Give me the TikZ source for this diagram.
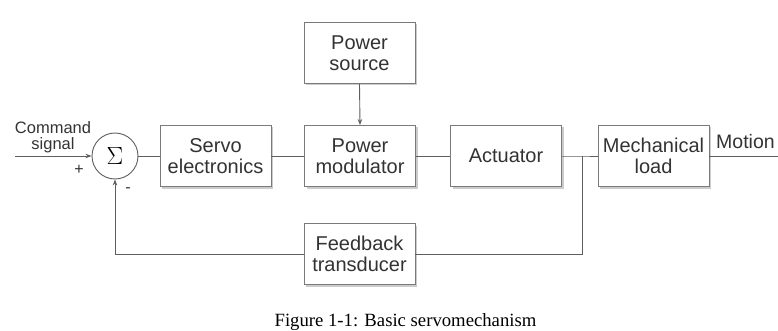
\documentclass[tikz,border=0pt]{standalone}
\usepackage{fontspec}
\setmainfont{Liberation Sans}
\newfontfamily\capfont{Liberation Serif}
\usetikzlibrary{arrows.meta,shadows}
\definecolor{linec}{HTML}{5E5E5E}
\definecolor{boxc}{HTML}{7A7A7A}
\definecolor{txtc}{HTML}{333333}
\begin{document}
\begin{tikzpicture}[x=1pt,y=-1pt,
  blockbox/.style={draw=boxc,line width=0.9pt,fill=white,minimum width=111pt,minimum height=61pt,
    align=center,inner sep=0pt,text=txtc,font=\fontsize{20}{21}\selectfont,
    drop shadow={shadow xshift=2pt,shadow yshift=-2pt,fill=black!25,opacity=0.8}},
  sumnode/.style={draw=linec,line width=0.9pt,circle,minimum size=46pt,inner sep=0pt,fill=white},
  wire/.style={draw=linec,line width=0.9pt},
  arr/.style={wire,-{Stealth[length=6pt,width=4.5pt]}},
  lbl/.style={text=txtc,inner sep=0pt,align=center}]
\useasboundingbox (0,0) rectangle (778,331);
\node[sumnode] (sum) at (115,156) {\fontsize{27}{27}\selectfont$\Sigma$};
\node[blockbox] (servo) at (215.5,156) {Servo\\electronics};
\node[blockbox] (pm) at (360,156) {Power\\modulator};
\node[blockbox] (act) at (506,156) {Actuator};
\node[blockbox] (mech) at (653.5,156) {Mechanical\\load};
\node[blockbox] (ps) at (359.5,53) {Power\\source};
\node[blockbox] (fb) at (359.5,254) {Feedback\\transducer};
\node[lbl,font=\fontsize{16.5}{16}\selectfont] (cmd) at (53,137) {Command\\signal};
\node[lbl,anchor=west,font=\fontsize{19.5}{21}\selectfont] (motion) at (716,142) {Motion};
\node[lbl,font=\fontsize{16}{16}\selectfont] (plus) at (79,170) {+};
\node[lbl,font=\fontsize{16}{16}\selectfont] (minus) at (128,190) {-};
\node[lbl,text=black,font=\capfont\fontsize{18.7}{20}\selectfont] (cap) at (405.5,322) {Figure 1-1: Basic servomechanism};
\coordinate (in) at (15,156);
\coordinate (branch) at (582,156);
\coordinate (out) at (778,156);
\coordinate (fbr) at (582,254);
\coordinate (fbl) at (115,254);
\draw[arr] (in) -- (sum.west);
\draw[wire] (sum.east) -- (servo.west);
\draw[wire] (servo.east) -- (pm.west);
\draw[wire] (pm.east) -- (act.west);
\draw[wire] (act.east) -- (branch) -- (mech.west);
\draw[wire] (mech.east) -- (out);
\draw[arr] (ps.south) -- (pm.north);
\draw[wire] (branch) -- (fbr) -- (fb.east);
\draw[wire] (fb.west) -- (fbl);
\draw[arr] (fbl) -- (sum.south);
\end{tikzpicture}
\end{document}
